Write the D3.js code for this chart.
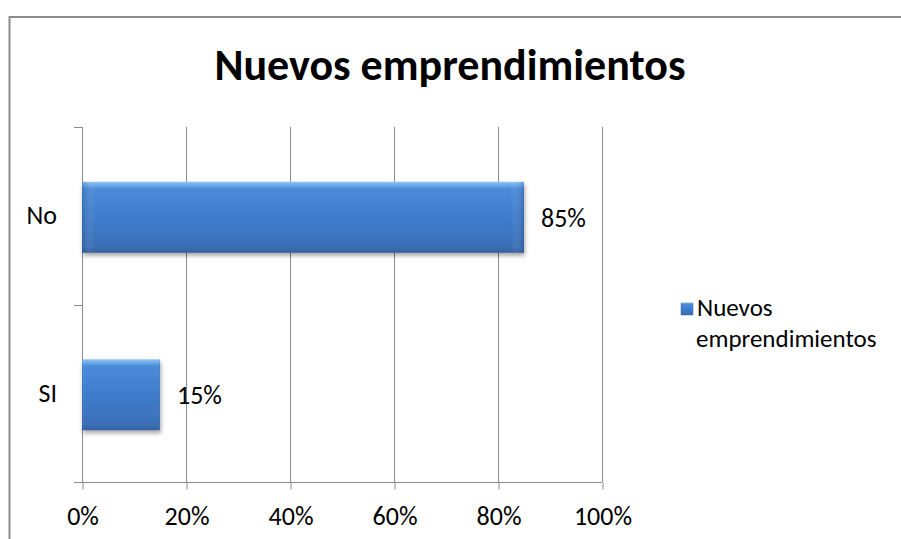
<!DOCTYPE html>
<html>
<head>
<meta charset="utf-8">
<script src="https://cdn.jsdelivr.net/npm/d3@7"></script>
<style>
  html, body { margin: 0; padding: 0; background: #fff; }
  svg { display: block; }
  text { font-family: Carlito, Lato, "Open Sans", sans-serif; fill: #000; }
</style>
</head>
<body>
<script>
const chartTitle = "Nuevos emprendimientos";
const seriesName = "Nuevos emprendimientos";
const categories = ["No", "SI"];
const values = [85, 15];
const xTicks = [0, 20, 40, 60, 80, 100];

const W = 901, H = 539;
const FS = "26px";
const svg = d3.select("body").append("svg").attr("width", W).attr("height", H);

const defs = svg.append("defs");
const grad = defs.append("linearGradient").attr("id", "barGrad")
  .attr("x1", 0).attr("y1", 0).attr("x2", 0).attr("y2", 1);
[[0, "#8fc6f7"], [0.05, "#6aa9ea"], [0.1, "#4a8bd9"], [0.5, "#3f7dcc"], [0.92, "#3a6fb6"], [1, "#33609e"]]
  .forEach(([o, c]) => grad.append("stop").attr("offset", o).attr("stop-color", c));
const sgrad = defs.append("linearGradient").attr("id", "sideGrad")
  .attr("x1", 0).attr("y1", 0).attr("x2", 1).attr("y2", 0);
[[0, "rgba(20,50,110,0.25)"], [0.03, "rgba(255,255,255,0)"], [0.97, "rgba(255,255,255,0)"], [1, "rgba(20,50,110,0.25)"]]
  .forEach(([o, c]) => sgrad.append("stop").attr("offset", o).attr("stop-color", c));
const f = defs.append("filter").attr("id", "shadow").attr("x", "-10%").attr("y", "-20%").attr("width", "130%").attr("height", "150%");
f.append("feDropShadow").attr("dx", 1).attr("dy", 3).attr("stdDeviation", 2)
  .attr("flood-color", "#000").attr("flood-opacity", 0.35);

// outer chart border (extends past the right and bottom edges)
svg.append("rect").attr("x", 9.5).attr("y", 17).attr("width", 1000).attr("height", 1000)
  .attr("fill", "none").attr("stroke", "#8c8c8c").attr("stroke-width", 2);

// title
svg.append("text").attr("x", 450).attr("y", 80).attr("text-anchor", "middle")
  .style("font-size", "44px").style("font-weight", "bold").text(chartTitle);

const plotL = 82, plotR = 602, plotT = 127, plotB = 482;
const x = d3.scaleLinear().domain([0, 100]).range([plotL, plotR]);
const y = d3.scaleBand().domain(categories).range([plotT, plotB]).paddingInner(0.6).paddingOuter(0.3);

const gridColor = "#8a8a8a";
// vertical gridlines
svg.append("g").selectAll("line").data(xTicks.filter(d => d > 0)).join("line")
  .attr("x1", d => x(d) + 0.5).attr("x2", d => x(d) + 0.5)
  .attr("y1", plotT).attr("y2", plotB)
  .attr("stroke", gridColor).attr("stroke-width", 1);

// x axis
const xAxis = svg.append("g").attr("transform", `translate(0.5,${plotB + 0.5})`)
  .call(d3.axisBottom(x).tickValues(xTicks).tickFormat(d => d + "%").tickSize(7).tickPadding(17));
xAxis.select(".domain").remove();
xAxis.selectAll(".tick line").attr("stroke", gridColor);
xAxis.selectAll("text").style("font-size", FS).style("font-family", "Carlito, Lato, sans-serif").attr("fill", "#000");
svg.append("line").attr("x1", plotL - 8).attr("x2", plotR).attr("y1", plotB + 0.5).attr("y2", plotB + 0.5)
  .attr("stroke", gridColor);

// y axis line and boundary ticks
svg.append("line").attr("x1", plotL + 0.5).attr("x2", plotL + 0.5).attr("y1", plotT).attr("y2", plotB)
  .attr("stroke", gridColor);
const bounds = d3.range(categories.length + 1).map(i => y.range()[0] + i * y.step());
svg.append("g").selectAll("line").data(bounds).join("line")
  .attr("x1", plotL - 8).attr("x2", plotL).attr("y1", d => Math.round(d) + 0.5).attr("y2", d => Math.round(d) + 0.5)
  .attr("stroke", gridColor);

// category labels
const yAxis = svg.append("g").attr("transform", `translate(${plotL},0)`)
  .call(d3.axisLeft(y).tickSize(0).tickPadding(25));
yAxis.select(".domain").remove();
yAxis.selectAll("text").style("font-size", FS).style("font-family", "Carlito, Lato, sans-serif").attr("fill", "#000");

// bars
const bars = svg.append("g");
categories.forEach((c, i) => {
  const bx = x(0), bw = x(values[i]) - x(0), by = y(c) + 1.5, bh = y.bandwidth();
  bars.append("rect").attr("x", bx).attr("y", by).attr("width", bw).attr("height", bh)
    .attr("fill", "url(#barGrad)").attr("filter", "url(#shadow)");
  bars.append("rect").attr("x", bx).attr("y", by).attr("width", bw).attr("height", bh)
    .attr("fill", "url(#sideGrad)");
});

// data labels
svg.append("g").selectAll("text").data(categories).join("text")
  .attr("x", (d, i) => x(values[i]) + 17)
  .attr("y", d => y(d) + y.bandwidth() / 2 + 2)
  .attr("dy", "0.35em")
  .style("font-size", FS)
  .text((d, i) => values[i] + "%");

// legend
svg.append("rect").attr("x", 681).attr("y", 303).attr("width", 12).attr("height", 12)
  .attr("fill", "url(#barGrad)").attr("stroke", "#3a6fb6").attr("stroke-width", 0.5);
const words = seriesName.split(" ");
svg.append("text").attr("x", 697).attr("y", 316).style("font-size", "25px").text(words[0]);
svg.append("text").attr("x", 696).attr("y", 347).style("font-size", "25px").text(words[1]);
</script>
</body>
</html>
